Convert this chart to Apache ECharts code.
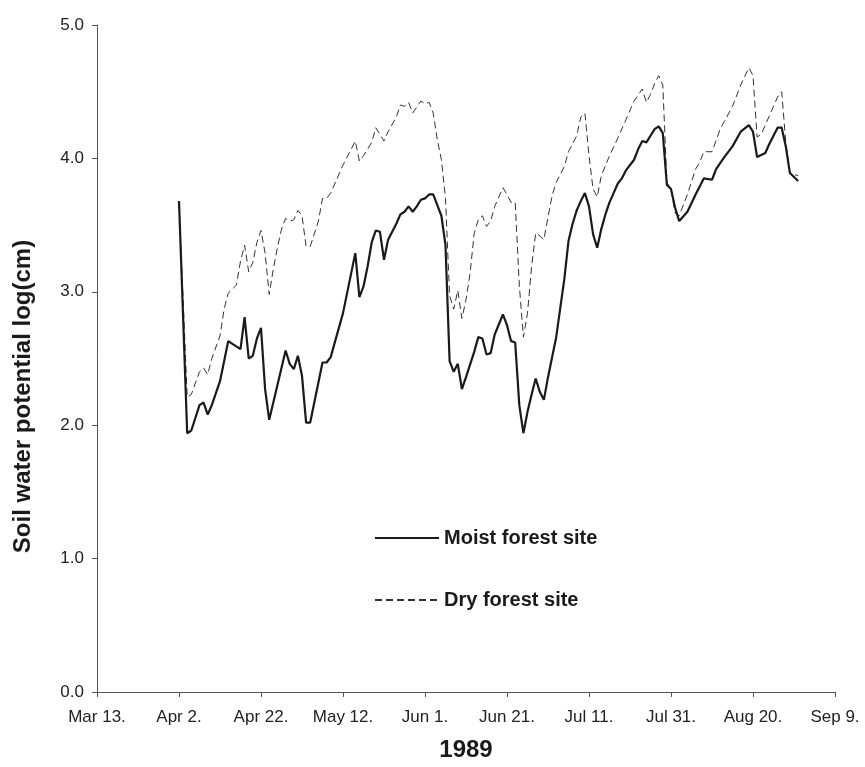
<!DOCTYPE html>
<html>
<head>
<meta charset="utf-8">
<title>Soil water potential 1989</title>
<script src="https://cdn.jsdelivr.net/npm/echarts@6/dist/echarts.min.js"></script>
<style>
  html, body { margin: 0; padding: 0; background: #fff; }
  #chart { width: 865px; height: 767px; }
</style>
</head>
<body>
<div id="chart"></div>
<script>
// Axis start date and tick labels (every 20 days from Mar 13)
const startDate = '03-13';
const tickLabels = ['Mar 13.', 'Apr 2.', 'Apr 22.', 'May 12.', 'Jun 1.', 'Jun 21.', 'Jul 11.', 'Jul 31.', 'Aug 20.', 'Sep 9.'];

// Moist forest site: measurement dates (1989) and soil water potential, log(cm)
const moistDates = ['04-02','04-04','04-05','04-07','04-08','04-09','04-10','04-12','04-14','04-17',
  '04-18','04-19','04-20','04-21','04-22','04-23','04-24','04-26','04-28','04-29',
  '04-30','05-01','05-02','05-03','05-04','05-07','05-08','05-09','05-12','05-15',
  '05-16','05-17','05-18','05-19','05-20','05-21','05-22','05-23','05-25','05-26',
  '05-27','05-28','05-29','05-30','05-31','06-01','06-02','06-03','06-04','06-05',
  '06-06','06-07','06-08','06-09','06-10','06-11','06-13','06-14','06-15','06-16',
  '06-17','06-18','06-20','06-21','06-22','06-23','06-24','06-25','06-26','06-27',
  '06-28','06-29','06-30','07-01','07-03','07-05','07-06','07-07','07-08','07-09',
  '07-10','07-11','07-12','07-13','07-14','07-15','07-16','07-17','07-18','07-19',
  '07-20','07-22','07-23','07-24','07-25','07-26','07-27','07-28','07-29','07-30',
  '07-31','08-01','08-02','08-04','08-06','08-08','08-10','08-11','08-13','08-15',
  '08-17','08-19','08-20','08-21','08-23','08-24','08-26','08-27','08-28','08-29',
  '08-30','08-31'];
const moistValues = [3.68,1.94,1.96,2.15,2.17,2.08,2.15,2.33,2.63,2.57,
  2.81,2.50,2.52,2.65,2.73,2.27,2.04,2.30,2.56,2.46,
  2.42,2.52,2.37,2.02,2.02,2.47,2.47,2.51,2.84,3.29,
  2.96,3.04,3.19,3.37,3.46,3.45,3.24,3.39,3.51,3.58,
  3.60,3.64,3.60,3.64,3.69,3.70,3.73,3.73,3.65,3.57,
  3.35,2.48,2.40,2.46,2.27,2.36,2.55,2.66,2.65,2.53,
  2.54,2.68,2.83,2.75,2.63,2.62,2.15,1.94,2.10,2.23,
  2.35,2.25,2.19,2.36,2.66,3.10,3.38,3.51,3.61,3.68,
  3.74,3.64,3.43,3.33,3.47,3.58,3.67,3.74,3.81,3.85,
  3.91,3.99,4.07,4.13,4.12,4.17,4.22,4.24,4.19,3.80,
  3.77,3.63,3.53,3.60,3.73,3.85,3.84,3.92,4.01,4.09,
  4.20,4.25,4.20,4.01,4.04,4.11,4.23,4.23,4.09,3.89,
  3.86,3.83];

// Dry forest site
const dryDates = ['04-02','04-04','04-05','04-07','04-08','04-09','04-10','04-12','04-13','04-14',
  '04-15','04-16','04-17','04-18','04-19','04-20','04-21','04-22','04-23','04-24',
  '04-25','04-26','04-27','04-28','04-29','04-30','05-01','05-02','05-03','05-04',
  '05-06','05-07','05-08','05-09','05-12','05-14','05-15','05-16','05-17','05-19',
  '05-20','05-22','05-23','05-25','05-26','05-27','05-28','05-29','05-31','06-01',
  '06-02','06-03','06-04','06-05','06-06','06-07','06-08','06-09','06-10','06-11',
  '06-12','06-13','06-14','06-15','06-16','06-17','06-18','06-20','06-21','06-22',
  '06-23','06-24','06-25','06-26','06-27','06-28','06-29','06-30','07-01','07-02',
  '07-03','07-05','07-06','07-08','07-09','07-10','07-11','07-12','07-13','07-14',
  '07-16','07-18','07-20','07-22','07-24','07-25','07-26','07-27','07-28','07-29',
  '07-30','07-31','08-01','08-02','08-04','08-06','08-07','08-08','08-10','08-12',
  '08-15','08-17','08-19','08-20','08-21','08-22','08-24','08-26','08-27','08-28',
  '08-29','08-31'];
const dryValues = [3.68,2.21,2.23,2.40,2.43,2.38,2.50,2.67,2.87,2.99,
  3.02,3.05,3.23,3.35,3.15,3.22,3.37,3.46,3.29,2.98,
  3.17,3.33,3.47,3.55,3.53,3.54,3.61,3.57,3.34,3.34,
  3.53,3.70,3.70,3.74,3.95,4.07,4.13,3.98,4.02,4.12,
  4.23,4.13,4.20,4.31,4.40,4.39,4.42,4.34,4.43,4.41,
  4.42,4.34,4.14,3.99,3.70,2.97,2.87,3.01,2.80,2.94,
  3.14,3.44,3.54,3.57,3.49,3.53,3.64,3.78,3.73,3.67,
  3.67,3.05,2.66,2.84,3.19,3.44,3.42,3.39,3.56,3.72,
  3.82,3.94,4.05,4.17,4.31,4.34,4.02,3.77,3.71,3.87,
  4.02,4.15,4.29,4.43,4.52,4.42,4.48,4.56,4.62,4.55,
  3.82,3.77,3.59,3.57,3.73,3.92,3.97,4.05,4.05,4.22,
  4.39,4.55,4.68,4.62,4.16,4.18,4.32,4.46,4.50,4.12,
  3.89,3.87];

// Days elapsed since the axis start date
function dayOffset(mmdd) {
  const [m, d] = mmdd.split('-').map(Number);
  const [m0, d0] = startDate.split('-').map(Number);
  return (Date.UTC(1989, m - 1, d) - Date.UTC(1989, m0 - 1, d0)) / 86400000;
}
function pairs(dates, values) {
  return dates.map((s, i) => [dayOffset(s), values[i]]);
}

const font = "'Liberation Sans', Arial, Helvetica, sans-serif";
const chart = echarts.init(document.getElementById('chart'), null, { renderer: 'canvas' });

chart.setOption({
  backgroundColor: '#ffffff',
  animation: false,
  textStyle: { fontFamily: font },
  grid: { left: 97, right: 30, top: 25, bottom: 73, containLabel: false },
  legend: {
    orient: 'vertical',
    left: 374,
    top: 526,
    padding: 0,
    itemWidth: 64,
    itemHeight: 24,
    itemGap: 38,
    itemStyle: { color: 'transparent', borderWidth: 0, opacity: 0 },
    textStyle: { fontFamily: font, fontSize: 20, fontWeight: 'bold', color: '#1a1a1a', lineHeight: 24 },
    data: ['Moist forest site', 'Dry forest site']
  },
  xAxis: {
    type: 'value',
    min: 0,
    max: 180,
    interval: 20,
    name: '1989',
    nameLocation: 'middle',
    nameGap: 46,
    nameTextStyle: { fontFamily: font, fontSize: 24, fontWeight: 'bold', color: '#1a1a1a' },
    axisLine: { show: true, lineStyle: { color: '#555', width: 1 } },
    axisTick: { show: true, length: 5, inside: false, lineStyle: { color: '#555' } },
    axisLabel: {
      fontFamily: font, fontSize: 17, color: '#222', margin: 17,
      formatter: v => tickLabels[Math.round(v / 20)] || ''
    },
    splitLine: { show: false }
  },
  yAxis: {
    type: 'value',
    min: 0,
    max: 5,
    interval: 1,
    name: 'Soil water potential log(cm)',
    nameLocation: 'middle',
    nameGap: 62,
    nameTextStyle: {
      fontFamily: font, fontSize: 24, fontWeight: 'bold', color: '#1a1a1a',
      padding: [0, 76, 0, 0]
    },
    axisLine: { show: true, lineStyle: { color: '#555', width: 1 } },
    axisTick: { show: true, length: 5, inside: false, lineStyle: { color: '#555' } },
    axisLabel: {
      fontFamily: font, fontSize: 17, color: '#222', margin: 13,
      formatter: v => v.toFixed(1)
    },
    splitLine: { show: false }
  },
  series: [
    {
      name: 'Moist forest site',
      type: 'line',
      data: pairs(moistDates, moistValues),
      symbol: 'none',
      showSymbol: false,
      lineStyle: { color: '#1a1a1a', width: 2.2, type: 'solid' },
      itemStyle: { color: '#1a1a1a' },
      z: 3
    },
    {
      name: 'Dry forest site',
      type: 'line',
      data: pairs(dryDates, dryValues),
      symbol: 'none',
      showSymbol: false,
      lineStyle: { color: '#333', width: 1, type: [7, 4] },
      itemStyle: { color: '#333' },
      z: 2
    }
  ]
});
</script>
</body>
</html>
